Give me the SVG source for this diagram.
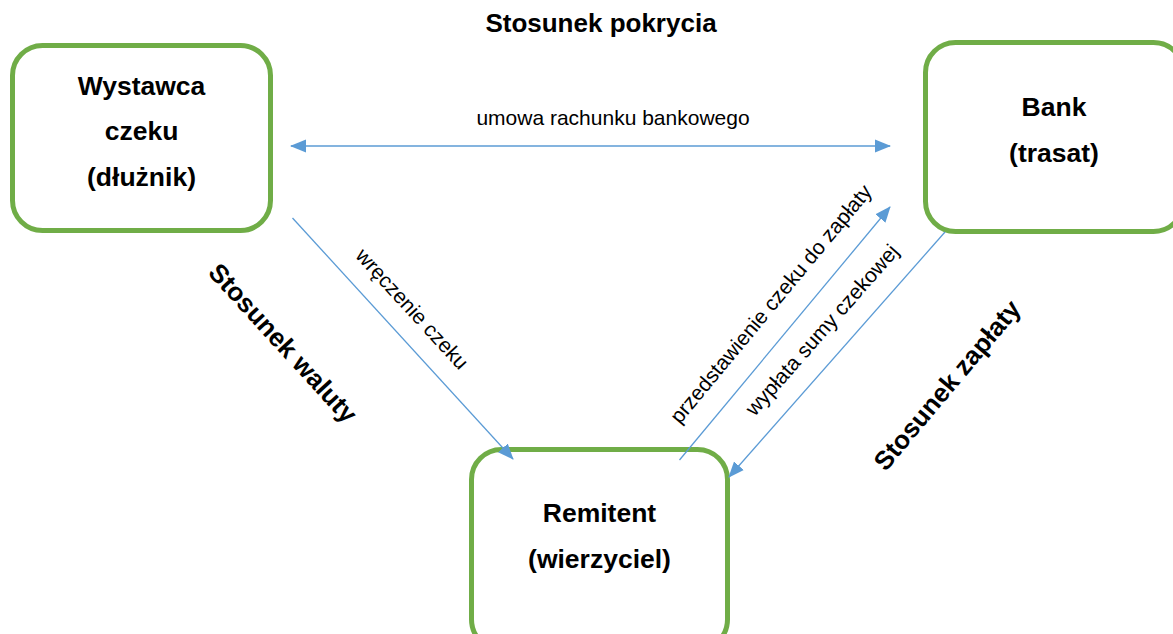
<svg xmlns="http://www.w3.org/2000/svg" width="1173" height="634" viewBox="0 0 1173 634">
<style>
.box{fill:#fff;stroke:#70AD47;stroke-width:5}
.nt{font-family:"Liberation Sans",Arial,sans-serif;font-weight:bold;font-size:26.5px;fill:#000;text-anchor:middle}
.bl{font-family:"Liberation Sans",Arial,sans-serif;font-weight:bold;font-size:26px;fill:#000;text-anchor:middle}
.lb{font-family:"Liberation Sans",Arial,sans-serif;font-size:21px;fill:#000;text-anchor:middle}
.cn{stroke:#5B9BD5;stroke-width:1.3;fill:none}
</style>
<defs>
<marker id="ah" markerUnits="userSpaceOnUse" markerWidth="16" markerHeight="16" viewBox="0 0 16 16" refX="15" refY="8" orient="auto-start-reverse">
<path d="M0,1.5 L16,8 L0,14.5 Z" fill="#5B9BD5"/>
</marker>
</defs>
<rect width="1173" height="634" fill="#fff"/>
<g id="title"><text class="bl" x="601" y="32">Stosunek pokrycia</text></g>
<g id="wystawca">
<rect class="box" x="12.5" y="45.5" width="258" height="185" rx="30"/>
<text class="nt" x="141.5" y="95">Wystawca</text>
<text class="nt" x="141.5" y="140">czeku</text>
<text class="nt" x="141.5" y="186">(dłużnik)</text>
</g>
<g id="bank">
<rect class="box" x="925.5" y="42.5" width="258" height="189" rx="30"/>
<text class="nt" x="1054" y="116">Bank</text>
<text class="nt" x="1054" y="162">(trasat)</text>
</g>
<g id="remitent">
<rect class="box" x="471.5" y="449.5" width="256" height="200" rx="30"/>
<text class="nt" x="599.5" y="522">Remitent</text>
<text class="nt" x="599.5" y="568">(wierzyciel)</text>
</g>
<g id="connectors">
<line class="cn" x1="291" y1="146" x2="890" y2="146" marker-start="url(#ah)" marker-end="url(#ah)"/>
<line class="cn" x1="292.5" y1="218" x2="513" y2="459" marker-end="url(#ah)"/>
<line class="cn" x1="679.5" y1="460" x2="890" y2="207" marker-end="url(#ah)"/>
<line class="cn" x1="945" y1="232" x2="729" y2="477" marker-end="url(#ah)"/>
</g>
<g id="labels">
<text class="lb" x="613" y="125">umowa rachunku bankowego</text>
<text class="lb" transform="translate(412,309) rotate(47.5)" y="7">wręczenie czeku</text>
<text class="lb" transform="translate(771,304) rotate(-50.3)" y="7">przedstawienie czeku do zapłaty</text>
<text class="lb" transform="translate(822,330) rotate(-48.6)" y="7">wypłata sumy czekowej</text>
<text class="bl" transform="translate(283,343) rotate(47.5)" y="9">Stosunek waluty</text>
<text class="bl" transform="translate(947,385) rotate(-50)" y="9">Stosunek zapłaty</text>
</g>
</svg>
